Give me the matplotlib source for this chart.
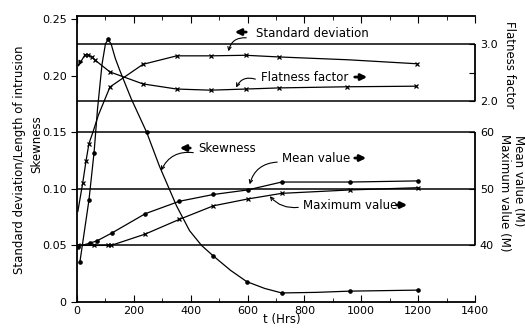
import matplotlib
matplotlib.use("Agg")
import matplotlib.pyplot as plt
from matplotlib.ticker import MultipleLocator

# readings vs time t (hrs)
sd_t = [3, 20, 32, 42, 56, 75, 116, 232, 351, 470, 593, 712, 955, 1196]
sd_val = [0.08, 0.105, 0.125, 0.14, 0.15, 0.165, 0.19, 0.21, 0.2175, 0.2175, 0.218, 0.2165, 0.214, 0.2105]
sd_marks = [1, 2, 3, 6, 7, 8, 9, 10, 11, 13]

flat_t = [5, 28, 39, 53, 63, 116, 232, 351, 470, 593, 712, 951, 1193]
flat_val = [2.62, 2.81, 2.81, 2.77, 2.72, 2.51, 2.30, 2.21, 2.19, 2.21, 2.23, 2.25, 2.26]
flat_marks = list(range(1, 13))

skew_t = [10, 42, 60, 72, 88, 100, 109, 120, 135, 150, 190, 245, 290, 350, 396, 438, 478, 540, 597, 660, 720, 840, 960, 1200]
skew_val = [0.035, 0.09, 0.132, 0.17, 0.21, 0.228, 0.232, 0.228, 0.215, 0.205, 0.18, 0.15, 0.12, 0.085, 0.063,
            0.05, 0.041, 0.028, 0.018, 0.012, 0.008, 0.0085, 0.0096, 0.0105]
skew_marks = [0, 1, 2, 6, 11, 16, 18, 20, 22, 23]

mean_t = [3, 45, 70, 123, 240, 360, 480, 600, 720, 960, 1200]
mean_val = [39.8, 40.4, 40.8, 42.2, 45.6, 47.8, 49.0, 49.8, 51.2, 51.2, 51.4]

max_t = [5, 60, 110, 120, 240, 360, 480, 600, 720, 960, 1200]
max_val = [40.0, 40.0, 40.0, 40.0, 42.0, 44.6, 47.0, 48.2, 49.2, 49.8, 50.2]

Y_TOP = 0.2527
# right hand scales tied to the left one
F_A, F_B = 0.1776, 0.0503          # flatness 2.0 sits at F_A, one unit = F_B
F_LO, F_HI = 2 - F_A / F_B, 2 + (Y_TOP - F_A) / F_B
M_LO, M_HI = 30, 30 + Y_TOP * 200

plt.rcParams['font.family'] = 'DejaVu Sans'
fig = plt.figure(figsize=(5.25, 3.28), dpi=100)
ax = fig.add_axes([77 / 525, 1 - 302 / 328, 398 / 525, 286 / 328])
ax.set_xlim(0, 1400)
ax.set_ylim(0, Y_TOP)

axf = ax.twinx()
axf.set_ylim(F_LO, F_HI)
axm = ax.twinx()
axm.set_ylim(M_LO, M_HI)

for a in (axf, axm):
    for s in a.spines.values():
        s.set_visible(False)
ax.spines['right'].set_visible(False)
for s in ('left', 'bottom', 'top'):
    ax.spines[s].set_linewidth(1.3)

# right hand scale bars, only over the range each scale covers
ax.vlines(1400, F_A, F_A + F_B, color='k', lw=1.3, clip_on=False)
ax.vlines(1400, 0.05, 0.15, color='k', lw=1.3, clip_on=False)

# horizontal reference lines
for v in (2.0, 3.0):
    axf.axhline(v, color='k', lw=1.1)
for v in (40, 50, 60):
    axm.axhline(v, color='k', lw=1.1)

lw = 0.9
ax.plot(sd_t, sd_val, color='k', lw=lw, marker='x', ms=3.5, mew=0.9, markevery=sd_marks)
ax.plot(skew_t, skew_val, color='k', lw=lw, marker='o', ms=2.3, markevery=skew_marks)
axf.plot(flat_t, flat_val, color='k', lw=lw, marker='x', ms=3.5, mew=0.9, markevery=flat_marks)
axf.annotate('', xy=(flat_t[0], flat_val[0]), xytext=(flat_t[0] + 6, flat_val[0] + 0.06),
             arrowprops=dict(arrowstyle='-|>', color='k', lw=0.8, mutation_scale=7))
axm.plot(mean_t, mean_val, color='k', lw=lw, marker='o', ms=2.3)
axm.plot(max_t, max_val, color='k', lw=lw, marker='x', ms=3.5, mew=0.9)

# ticks
ax.xaxis.set_major_locator(MultipleLocator(200))
ax.xaxis.set_minor_locator(MultipleLocator(100))
ax.set_yticks([0, 0.05, 0.10, 0.15, 0.20, 0.25])
ax.set_yticklabels(['0', '0.05', '0.10', '0.15', '0.20', '0.25'])
ax.tick_params(axis='x', which='both', direction='in', top=True, labelsize=8, pad=3)
ax.tick_params(axis='x', which='major', length=5)
ax.tick_params(axis='x', which='minor', length=3)
ax.tick_params(axis='y', direction='out', length=4, labelsize=8)

axf.set_yticks([2.0, 2.5, 3.0])
axf.set_yticklabels(['2.0', '', '3.0'])
axf.tick_params(axis='y', direction='in', length=4, labelsize=8)
axm.set_yticks([40, 50, 60])
axm.tick_params(axis='y', direction='in', length=4, labelsize=8)


def px(x, y):
    # figure pixel position -> data coordinates of the left axis
    return (x - 77) / 0.2843, (302 - y) / 1132


def arrow(x0, x1, y):
    ax.annotate('', xy=px(x1, y), xytext=px(x0, y),
                arrowprops=dict(arrowstyle='-|>', color='k', lw=2.0, mutation_scale=9))


def pointer(x0, y0, x1, y1, rad):
    ax.annotate('', xy=px(x1, y1), xytext=px(x0, y0),
                arrowprops=dict(arrowstyle='->', color='k', lw=0.8, mutation_scale=6,
                                connectionstyle='arc3,rad=%s' % rad))


fs = 8.5
ax.text(*px(256, 33), 'Standard deviation', fontsize=fs, va='center')
arrow(249, 232, 32)
pointer(249, 38, 228, 54, 0.5)

ax.text(*px(261, 77), 'Flatness factor', fontsize=fs, va='center')
arrow(352, 370, 77)
pointer(258, 80, 235, 90, 0.5)

ax.text(*px(198, 148), 'Skewness', fontsize=fs, va='center')
arrow(193, 177, 148)
pointer(196, 153, 160, 173, 0.4)

ax.text(*px(282, 158), 'Mean value', fontsize=fs, va='center')
arrow(352, 369, 158)
pointer(280, 162, 249, 187, 0.4)

ax.text(*px(303, 205), 'Maximum value', fontsize=fs, va='center')
arrow(394, 410, 205)
pointer(301, 207, 268, 194, -0.3)

# axis titles
fig.text(282 / 525, 1 - 320 / 328, 't (Hrs)', ha='center', va='center', fontsize=8.5)
fig.text(20 / 525, 1 - 160 / 328, 'Standard deviation/Length of intrusion', rotation=90,
         ha='center', va='center', fontsize=8.5)
fig.text(37 / 525, 1 - 144 / 328, 'Skewness', rotation=90, ha='center', va='center', fontsize=8.5)
fig.text(510 / 525, 1 - 65 / 328, 'Flatness factor', rotation=270, ha='center', va='center', fontsize=8.5)
fig.text(518 / 525, 1 - 181 / 328, 'Mean value (M)', rotation=270, ha='center', va='center', fontsize=8.5)
fig.text(504 / 525, 1 - 193 / 328, 'Maximum value (M)', rotation=270, ha='center', va='center', fontsize=8.5)

fig.savefig('out.png', dpi=100)
